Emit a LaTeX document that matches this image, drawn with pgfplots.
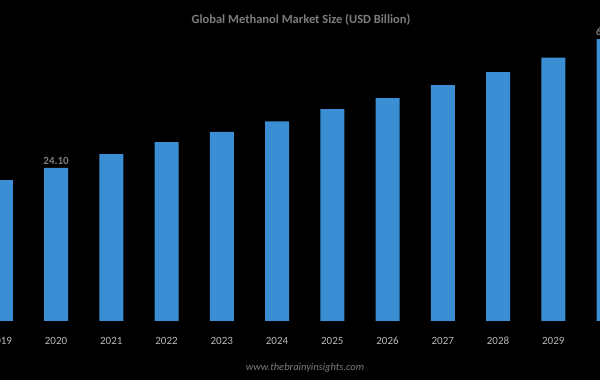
\documentclass[border=0pt]{standalone}
\usepackage{pgfplots}
\pgfplotsset{compat=1.18}
\usepackage{fontspec}
\setmainfont{Carlito}
\definecolor{barblue}{RGB}{59,142,212}
\definecolor{titlegray}{RGB}{125,125,125}
\definecolor{tickgray}{RGB}{185,185,185}
\begin{document}
\begin{tikzpicture}
\useasboundingbox (0,-59pt) rectangle (600pt,321pt);
\fill[black] (0,-59pt) rectangle (600pt,321pt);
\begin{axis}[
  scale only axis,
  width=600pt, height=321pt,
  at={(0,0)}, anchor=south west,
  clip=false,
  ybar, bar width=24pt,
  xmin=2018.985, xmax=2029.844,
  ymin=0, ymax=92,
  y filter/.expression={y+19.8},
  xtick={2019,...,2030},
  xticklabel style={/pgf/number format/1000 sep={}, font=\fontsize{11}{13}\selectfont, text=tickgray, anchor=center, yshift=-20pt},
  /pgf/number format/assume math mode=true,
  ytick=\empty,
  axis line style={draw=none},
  major tick length=0pt,
  point meta=explicit symbolic,
  nodes near coords,
  nodes near coords style={font=\bfseries\fontsize{11}{13}\selectfont, text=titlegray},
]
\addplot[fill=barblue, draw=none] coordinates {
  (2019,20.6) []
  (2020,24.10) [24.10]
  (2021,28.0) []
  (2022,31.5) []
  (2023,34.4) []
  (2024,37.4) []
  (2025,40.9) []
  (2026,44.1) []
  (2027,47.8) []
  (2028,51.5) []
  (2029,55.7) []
  (2030,61.0) [61.00]
};
\end{axis}
\node[text=titlegray, font=\bfseries\fontsize{12.5}{14}\selectfont] at (301pt,301pt) {Global Methanol Market Size (USD Billion)};
\node[text=titlegray, font=\itshape\fontsize{10.5}{12}\selectfont] at (305pt,-47pt) {www.thebrainyinsights.com};
\end{tikzpicture}
\end{document}
